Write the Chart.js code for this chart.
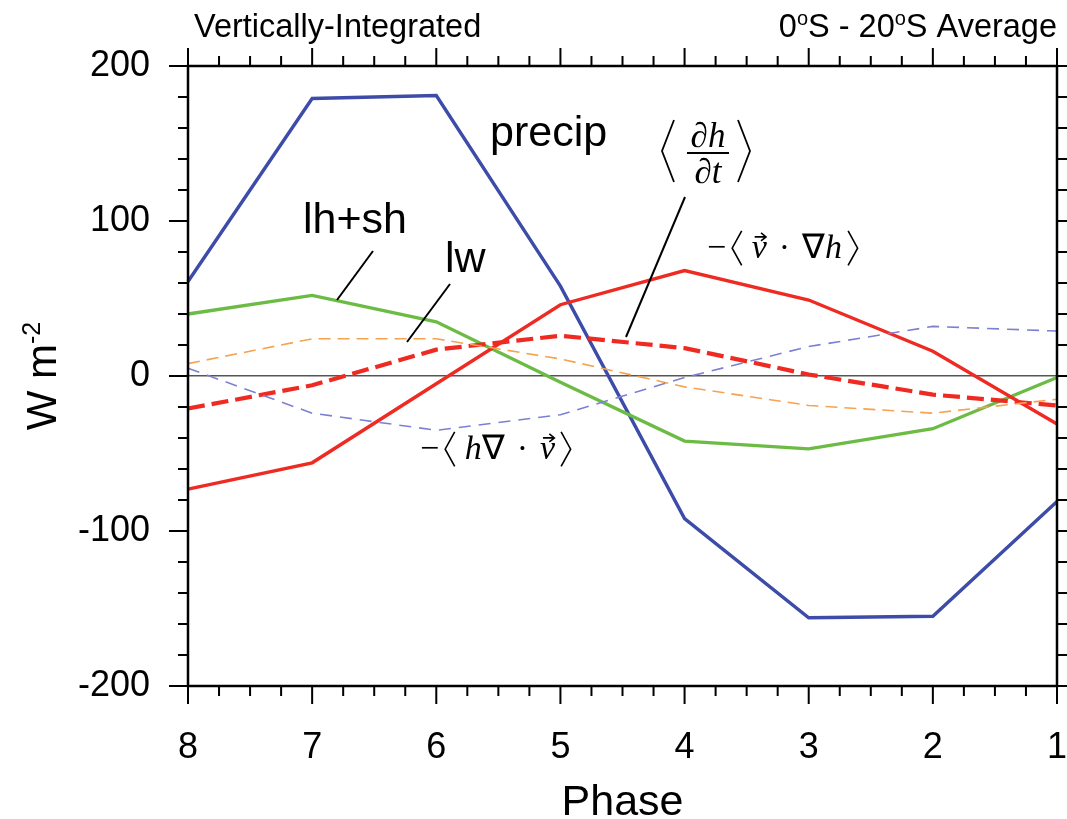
<!DOCTYPE html>
<html>
<head>
<meta charset="utf-8">
<script src="https://cdn.jsdelivr.net/npm/chart.js@4.4.0/dist/chart.umd.min.js"></script>
<style>
  html, body { margin: 0; padding: 0; background: #fff; }
  #wrap { width: 1067px; height: 819px; }
</style>
</head>
<body>
<div id="wrap"><canvas id="chart" width="1067" height="819"></canvas></div>
<script>
// MJO phase composites, 0S-20S, vertically integrated (W m-2)
const phases = ["8", "7", "6", "5", "4", "3", "2", "1"];
const precip = [61, 179, 181, 58, -92, -156, -155, -81];
const lhsh = [40, 52, 35, -4, -42, -47, -34, -1];
const lw = [8, 24, 24, 11, -7, -19, -24, -15];
const vGradH = [-73, -56, -5, 46, 68, 49, 16, -31];   // -<v . grad h>
const dhdt = [-21, -6, 17, 26, 18, 1, -12, -19];      // <dh/dt>
const hDivV = [5, -24, -35, -25, -1, 19, 32, 29];     // -<h div v>
const yMin = -200, yMax = 200, yMajor = 100, yMinor = 20;

const SANS = '"Liberation Sans", Arial, sans-serif';
const SERIF = '"Liberation Serif", "Times New Roman", serif';

function line(ctx, x1, y1, x2, y2) {
    ctx.beginPath(); ctx.moveTo(x1, y1); ctx.lineTo(x2, y2); ctx.stroke();
}

function bracket(ctx, x, top, bot, w, open) {
    const mid = (top + bot) / 2;
    ctx.beginPath();
    if (open) { ctx.moveTo(x + w, top); ctx.lineTo(x, mid); ctx.lineTo(x + w, bot); }
    else { ctx.moveTo(x, top); ctx.lineTo(x + w, mid); ctx.lineTo(x, bot); }
    ctx.stroke();
}

function vecArrow(ctx, x, y, w) {
    // little arrow over the v
    ctx.beginPath();
    ctx.moveTo(x, y); ctx.lineTo(x + w, y);
    ctx.moveTo(x + w - 5, y - 4); ctx.lineTo(x + w, y); ctx.lineTo(x + w - 5, y + 4);
    ctx.stroke();
}

// draws a row of math pieces, left to right
function mathRow(ctx, x0, base, size, items) {
    let x = x0;
    ctx.textAlign = "left";
    ctx.textBaseline = "alphabetic";
    ctx.lineWidth = 1.6;
    items.forEach(it => {
        if (it.gap) { x += it.gap; return; }
        if (it.br) {
            bracket(ctx, x, base - size * 0.8, base + size * 0.22, size * 0.28, it.br === "<");
            x += size * 0.28;
            return;
        }
        ctx.font = (it.it ? "italic " : "") + size + "px " + SERIF;
        ctx.fillText(it.t, x, base);
        const w = ctx.measureText(it.t).width;
        if (it.vec) vecArrow(ctx, x + 3, base - size * 0.62, w * 0.75);
        x += w;
    });
}

// superscript-aware text run
function runWidth(ctx, parts) {
    let w = 0;
    parts.forEach(p => { ctx.font = p[1] + "px " + SANS; w += ctx.measureText(p[0]).width; });
    return w;
}
function drawRun(ctx, x, y, parts) {
    ctx.textAlign = "left";
    ctx.textBaseline = "alphabetic";
    parts.forEach(p => {
        ctx.font = p[1] + "px " + SANS;
        ctx.fillText(p[0], x, y - (p[2] || 0));
        x += ctx.measureText(p[0]).width;
    });
}

const decor = {
    id: "decor",
    afterDatasetsDraw(chart) {
        const { ctx, chartArea: a, scales: { x, y } } = chart;
        ctx.save();
        ctx.strokeStyle = "#000";
        ctx.fillStyle = "#000";

        // frame
        ctx.lineWidth = 2.5;
        ctx.strokeRect(a.left, a.top, a.right - a.left, a.bottom - a.top);

        // tick marks, all pointing outward
        ctx.lineWidth = 2;
        ctx.beginPath();
        for (let v = yMin; v <= yMax; v += yMinor) {
            const py = y.getPixelForValue(v);
            const len = v % yMajor === 0 ? 19 : 10;
            ctx.moveTo(a.left, py); ctx.lineTo(a.left - len, py);
            ctx.moveTo(a.right, py); ctx.lineTo(a.right + len, py);
        }
        const nq = (phases.length - 1) * 4;
        for (let i = 0; i <= nq; i++) {
            const px = x.getPixelForValue(i / 4);
            const len = i % 4 === 0 ? 18 : 10;
            ctx.moveTo(px, a.bottom); ctx.lineTo(px, a.bottom + len);
            ctx.moveTo(px, a.top); ctx.lineTo(px, a.top - len);
        }
        ctx.stroke();

        // titles
        drawRun(ctx, a.left + 6, 37, [["Vertically-Integrated", 32.5]]);
        const rt = [["0", 32.5], ["o", 20, 12], ["S - 20", 32.5], ["o", 20, 12], ["S Average", 32.5]];
        drawRun(ctx, a.right - runWidth(ctx, rt), 37, rt);

        // axis titles
        ctx.font = "43px " + SANS;
        ctx.textAlign = "center";
        ctx.fillText("Phase", (a.left + a.right) / 2, 815);
        const yl = [["W m", 42], ["-2", 25, 16]];
        ctx.save();
        ctx.translate(56, (a.top + a.bottom) / 2);
        ctx.rotate(-Math.PI / 2);
        drawRun(ctx, -runWidth(ctx, yl) / 2, 0, yl);
        ctx.restore();

        // curve labels
        ctx.font = "43px " + SANS;
        ctx.textAlign = "left";
        ctx.fillText("precip", 490, 146);
        ctx.fillText("lh+sh", 303, 233);
        ctx.fillText("lw", 445, 272);

        // leader lines
        ctx.lineWidth = 2;
        line(ctx, 373, 251, 337, 300);
        line(ctx, 450, 284, 407, 342);
        line(ctx, 685, 197, 626, 337);

        // <dh/dt>
        ctx.font = "italic 35px " + SERIF;
        ctx.textAlign = "center";
        ctx.fillText("\u2202h", 708, 147);
        ctx.fillText("\u2202t", 708, 183);
        ctx.lineWidth = 1.8;
        line(ctx, 687, 153, 729, 153);
        bracket(ctx, 662, 120, 182, 12, true);
        bracket(ctx, 738, 120, 182, 12, false);

        // -<v . grad h>
        mathRow(ctx, 707, 258, 34, [
            { t: "\u2212" }, { gap: 6 }, { br: "<" }, { gap: 10 },
            { t: "v", it: true, vec: true }, { gap: 12 }, { t: "\u00b7" }, { gap: 12 },
            { t: "\u2207" }, { t: "h", it: true }, { gap: 6 }, { br: ">" }
        ]);
        // -<h div v>
        mathRow(ctx, 420, 459, 34, [
            { t: "\u2212" }, { gap: 6 }, { br: "<" }, { gap: 10 },
            { t: "h", it: true }, { t: "\u2207" }, { gap: 12 }, { t: "\u00b7" }, { gap: 12 },
            { t: "v", it: true, vec: true }, { gap: 6 }, { br: ">" }
        ]);
        ctx.restore();
    }
};

const ds = (data, color, width, dash) => ({
    data, borderColor: color, borderWidth: width, borderDash: dash || [],
    pointRadius: 0, fill: false, tension: 0, borderCapStyle: "butt", borderJoinStyle: "miter"
});

new Chart(document.getElementById("chart"), {
    type: "line",
    data: {
        labels: phases,
        datasets: [
            ds(hDivV, "#7d80d2", 1.6, [12, 8]),
            ds(lw, "#f5a34e", 1.6, [12, 7]),
            ds(dhdt, "#ee2a22", 4.2, [17, 7]),
            ds(vGradH, "#ee2a22", 3.4),
            ds(lhsh, "#6cbb45", 3.4),
            ds(precip, "#3c4ca8", 3.4)
        ]
    },
    options: {
        responsive: false,
        animation: false,
        layout: { padding: { top: 66, right: 10, left: 0, bottom: 0 } },
        plugins: { legend: { display: false }, tooltip: { enabled: false } },
        scales: {
            x: {
                offset: false,
                grid: { display: false, drawTicks: false },
                border: { display: false },
                ticks: { color: "#000", font: { family: SANS, size: 36 }, padding: 40, maxRotation: 0, autoSkip: false },
                afterFit: s => { s.height = 133; s.paddingLeft = 0; s.paddingRight = 0; }
            },
            y: {
                min: yMin, max: yMax,
                grid: {
                    drawTicks: false,
                    color: c => c.tick && c.tick.value === 0 ? "#555" : "rgba(0,0,0,0)",
                    lineWidth: 1.6
                },
                border: { display: false },
                ticks: { stepSize: yMajor, color: "#000", font: { family: SANS, size: 36 }, padding: 38 },
                afterFit: s => { s.width = 188; s.paddingTop = 0; s.paddingBottom = 0; }
            }
        }
    },
    plugins: [decor]
});
</script>
</body>
</html>
